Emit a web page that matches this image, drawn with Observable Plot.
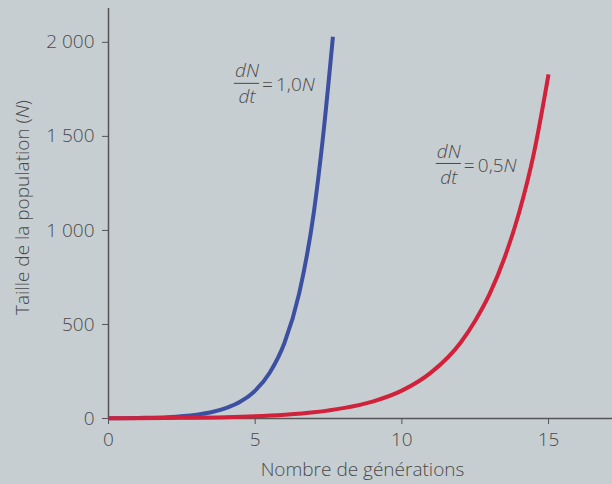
<!DOCTYPE html>
<html>
<head>
<meta charset="utf-8">
<script src="https://cdn.jsdelivr.net/npm/d3@7"></script>
<script src="https://cdn.jsdelivr.net/npm/@observablehq/plot@0.6"></script>
<style>
  html, body { margin: 0; padding: 0; background: #c6ced2; }
  #chart svg { display: block; }
</style>
</head>
<body>
<div id="chart"></div>
<script>
// Generations (t) and population (N)
const blueT = [0, 1, 2, 3, 3.5, 4, 4.5, 5, 5.5, 6, 6.5, 7, 7.3, 7.65];
const blueN = [1, 3, 7, 20, 33, 55, 90, 148, 245, 403, 665, 1097, 1480, 2030];
const redT  = [0, 2, 4, 6, 7, 8, 9, 10, 11, 12, 12.5, 13, 13.5, 14, 14.5, 15];
const redN  = [1, 3, 7, 20, 33, 55, 90, 148, 245, 403, 520, 665, 855, 1097, 1410, 1830];

const xTicks = [0, 5, 10, 15];
const yTicks = [0, 500, 1000, 1500, 2000];

const annotT = [4.72, 11.6];
const annotN = [1782, 1356];
const annotRhs = ["=\u20091,0", "=\u20090,5"];

const xLabel = "Nombre de générations";
const yLabel = "Taille de la population (";

const blue = blueT.map((t, i) => ({t, N: blueN[i]}));
const red = redT.map((t, i) => ({t, N: redN[i]}));
const annots = annotT.map((t, i) => ({t, N: annotN[i], rhs: annotRhs[i]}));

const textColor = "#4a4a4a";
const fmt = d => d3.format(",")(d).replace(/,/g, " ");

function appendItalicN(closeParen) {
  return function(index, scales, values, dims, ctx, next) {
    const g = next(index, scales, values, dims, ctx);
    g.querySelectorAll("text").forEach(t => {
      const ts = document.createElementNS("http://www.w3.org/2000/svg", "tspan");
      ts.setAttribute("font-style", "italic");
      ts.textContent = "N";
      t.appendChild(ts);
      if (closeParen) t.appendChild(document.createTextNode(")"));
    });
    return g;
  };
}

const chart = Plot.plot({
  width: 612,
  height: 484,
  marginLeft: 108,
  marginRight: 0,
  marginTop: 8,
  marginBottom: 66,
  style: {background: "#c6ced2", fontFamily: "'Open Sans', sans-serif", fontWeight: 300, fontSize: "19px", color: textColor},
  x: {domain: [0, 17.18]},
  y: {domain: [0, 2180]},
  marks: [
    Plot.ruleX([0], {y1: 0, y2: 2180, stroke: "#555", strokeWidth: 1.5}),
    Plot.ruleY([0], {stroke: "#555", strokeWidth: 1.5}),
    Plot.axisY({ticks: yTicks, tickSize: 6, tickPadding: 8, tickFormat: fmt, label: null, stroke: "#555", fill: textColor, fontSize: 19}),
    Plot.axisX({ticks: xTicks, tickSize: 6, tickPadding: 8, label: null, stroke: "#555", fill: textColor, fontSize: 19}),
    Plot.line(blue, {x: "t", y: "N", stroke: "#3d4fa1", strokeWidth: 4, curve: "monotone-x", strokeLinecap: "butt"}),
    Plot.line(red, {x: "t", y: "N", stroke: "#d2213a", strokeWidth: 4, curve: "monotone-x", strokeLinecap: "butt"}),
    // fraction dN/dt
    Plot.text(annots, {x: "t", y: "N", text: () => "dN", dy: -12, fontStyle: "italic", fontSize: 19, fill: textColor}),
    Plot.text(annots, {x: "t", y: "N", text: () => "dt", dy: 14, fontStyle: "italic", fontSize: 19, fill: textColor}),
    Plot.ruleY(annots, {y: "N", x1: d => d.t - 0.43, x2: d => d.t + 0.43, stroke: textColor, strokeWidth: 1}),
    Plot.text(annots, {x: "t", y: "N", text: "rhs", dx: 15, dy: 2, textAnchor: "start", fontSize: 19, fill: textColor, render: appendItalicN(false)}),
    // axis titles
    Plot.text([yLabel], {frameAnchor: "left", text: d => d, rotate: -90, textAnchor: "middle", lineAnchor: "middle", dx: -86, dy: -6, fontSize: 19, fill: textColor, render: appendItalicN(true)}),
    Plot.text([xLabel], {frameAnchor: "bottom", text: d => d, textAnchor: "middle", lineAnchor: "middle", dx: 2, dy: 51, fontSize: 19, fill: textColor})
  ]
});
document.getElementById("chart").appendChild(chart);
</script>
</body>
</html>
